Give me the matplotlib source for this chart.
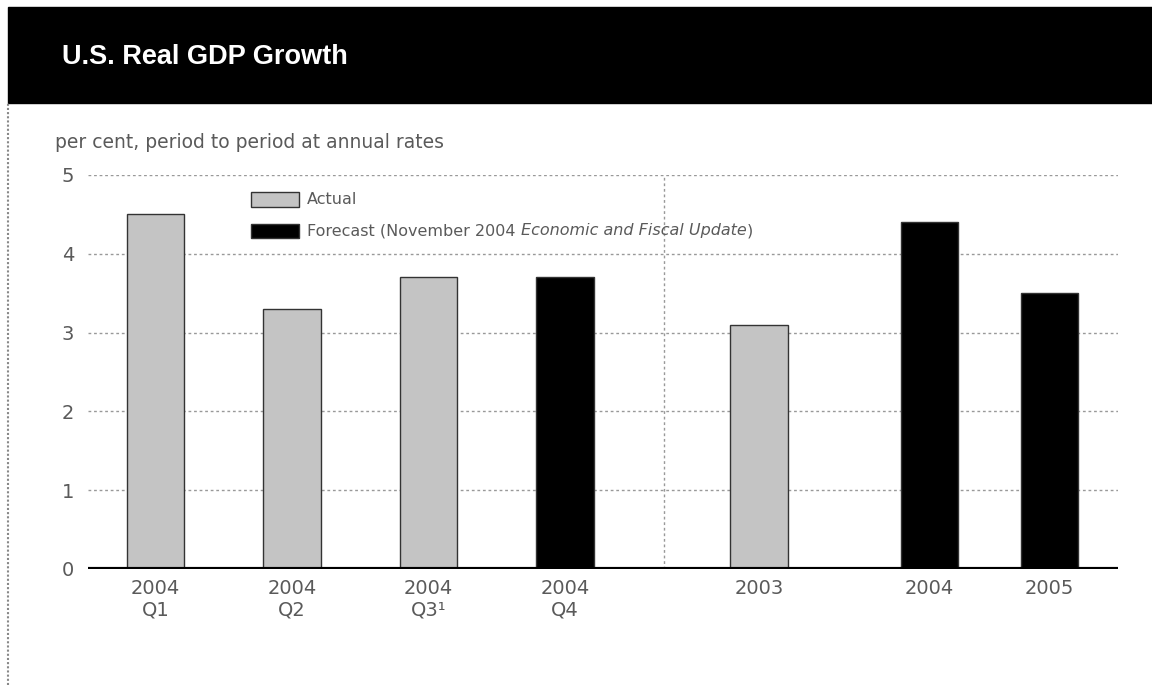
import matplotlib.pyplot as plt
from matplotlib.patches import Rectangle
from matplotlib.lines import Line2D

# GDP growth, per cent at annual rates
labels = ["2004\nQ1", "2004\nQ2", "2004\nQ3\u00b9", "2004\nQ4", "2003", "2004", "2005"]
growth = [4.5, 3.3, 3.7, 3.7, 3.1, 4.4, 3.5]
is_forecast = [False, False, False, True, False, True, True]

# bar layout: quarterly block on the left, annual block on the right
xpos = [0.0, 1.0, 2.0, 3.0, 4.42, 5.67, 6.55]
BAR_W = 0.42
GRAY = "#c4c4c4"
TEXT = "#5a5a5a"

fig = plt.figure(figsize=(11.52, 6.85), dpi=100)

# header band and left rule
fig.patches.append(Rectangle((8 / 1152, 1 - 103 / 685), 1, 96 / 685,
                             transform=fig.transFigure, color="black", zorder=0))
fig.lines.append(Line2D([8 / 1152, 8 / 1152], [0, 1 - 103 / 685], transform=fig.transFigure,
                        color="#888888", lw=1.5, ls=(0, (1, 1))))
fig.text(62 / 1152, 1 - 57 / 685, "U.S. Real GDP Growth", color="white", fontsize=19.5,
         fontweight="bold", family="Liberation Sans", va="center")
fig.text(55 / 1152, 1 - 143 / 685, "per cent, period to period at annual rates", color=TEXT,
         fontsize=13.5, family="DejaVu Sans", va="center")

ax = fig.add_axes([88 / 1152, 1 - 569 / 685, 1030 / 1152, 394 / 685])
colors = ["black" if f else GRAY for f in is_forecast]
ax.bar(xpos, growth, width=BAR_W, color=colors, edgecolor="#333333", linewidth=1, zorder=3)

ax.set_ylim(0, 5)
ax.set_xlim(-0.495, 7.05)
ax.set_yticks(range(6))
ax.set_xticks(xpos, labels)
ax.tick_params(axis="both", length=0, colors=TEXT, labelsize=14)
ax.tick_params(axis="x", pad=7)
ax.tick_params(axis="y", pad=10)
for lbl in ax.get_xticklabels() + ax.get_yticklabels():
    lbl.set_family("DejaVu Sans")
for s in ax.spines.values():
    s.set_visible(False)
for v in range(1, 6):
    ax.axhline(v, color="#999999", lw=1, ls=(0, (2, 2)), zorder=1)
ax.axhline(0, color="black", lw=3, zorder=4)
ax.axvline(3.725, color="#999999", lw=1, ls=(0, (2, 2)), zorder=1)

# legend
ax.add_patch(Rectangle((0.70, 4.6), 0.35, 0.18, facecolor=GRAY, edgecolor="#333333",
                       lw=1, zorder=5, clip_on=False))
ax.add_patch(Rectangle((0.70, 4.2), 0.35, 0.18, facecolor="black", edgecolor="#333333",
                       lw=1, zorder=5, clip_on=False))
LEG_FS = 11.5
ax.text(1.11, 4.69, "Actual", fontsize=LEG_FS, color=TEXT, va="center", family="DejaVu Sans")
t = ax.text(1.11, 4.29, "Forecast (November 2004 ", fontsize=LEG_FS, color=TEXT, va="center",
            family="DejaVu Sans")
fig.canvas.draw()
bb = t.get_window_extent()
x_end = ax.transData.inverted().transform((bb.x1, bb.y0))[0]
t2 = ax.text(x_end, 4.29, "Economic and Fiscal Update", fontsize=LEG_FS, color=TEXT,
             va="center", style="italic", family="DejaVu Sans")
fig.canvas.draw()
bb2 = t2.get_window_extent()
x_end2 = ax.transData.inverted().transform((bb2.x1, bb2.y0))[0]
ax.text(x_end2, 4.29, ")", fontsize=LEG_FS, color=TEXT, va="center", family="DejaVu Sans")

fig.savefig("out.png", dpi=100)
